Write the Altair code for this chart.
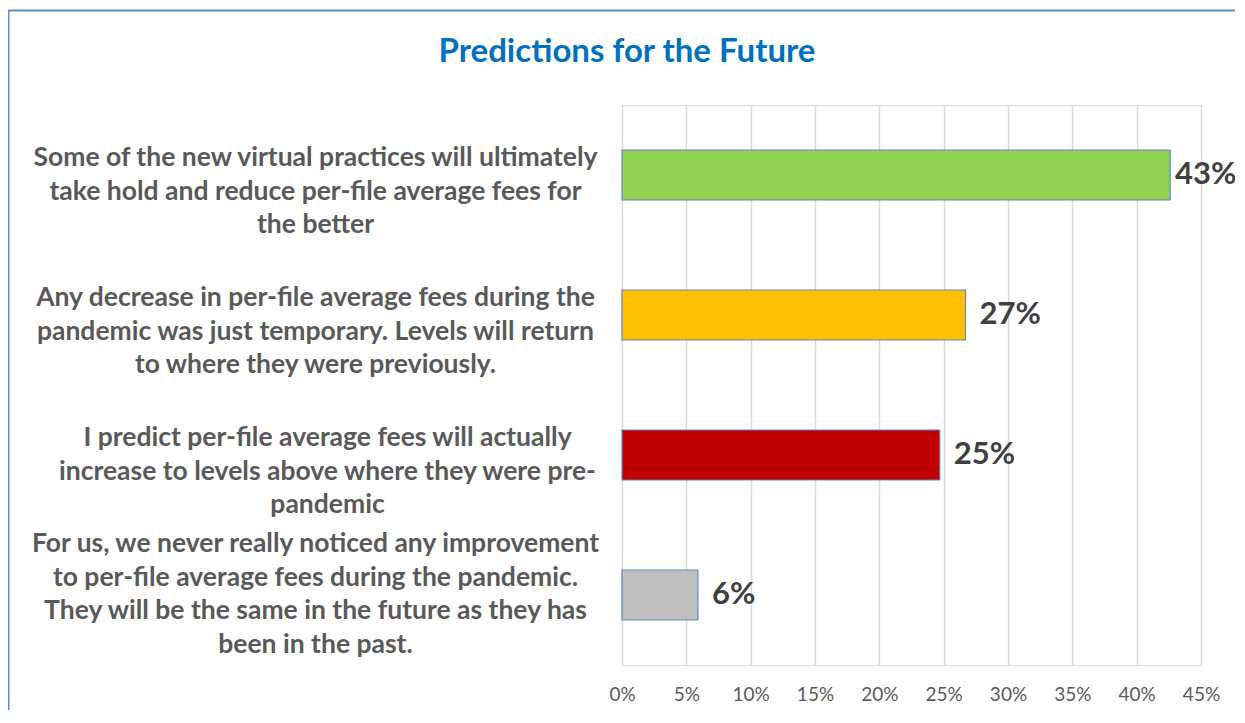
import altair as alt
import pandas as pd

title_text = "Predictions for the Future"
categories = [
    "Some of the new virtual practices will ultimately|take hold and reduce per-file average fees for|the better",
    "Any decrease in per-file average fees during the|pandemic was just temporary. Levels will return|to where they were previously.",
    "I predict per-file average fees will actually|increase to levels above where they were pre-|pandemic",
    "For us, we never really noticed any improvement|to per-file average fees during the pandemic.|They will be the same in the future as they has|been in the past.",
]
values = [0.426, 0.267, 0.247, 0.059]
colors = ["#92D050", "#FFC000", "#C00000", "#BFBFBF"]
x_ticks = [0, 0.05, 0.10, 0.15, 0.20, 0.25, 0.30, 0.35, 0.40, 0.45]

df = pd.DataFrame({"category": categories, "value": values})

FONT = "Lato"

y_enc = alt.Y(
    "category:N",
    sort=categories,
    title=None,
    scale=alt.Scale(paddingInner=0.643, paddingOuter=0.3215),
    axis=alt.Axis(
        labelExpr="split(datum.label, '|')",
        labelAlign="center",
        labelBaseline="middle",
        labelPadding={"condition": {"test": "indexof(datum.label, 'I predict') == 0", "value": 295}, "value": 307},
        labelLineHeight=33.5,
        labelFont=FONT,
        labelFontSize=26.5,
        labelFontWeight="bold",
        labelColor="#595959",
        labelLimit=0,
        labelOffset={"condition": {"test": "length(split(datum.label, '|')) < 4", "value": -17}, "value": -51},
        ticks=False,
        domain=False,
        grid=False,
    ),
)

x_enc = alt.X(
    "value:Q",
    title=None,
    scale=alt.Scale(domain=[0, 0.45], nice=False),
    axis=alt.Axis(
        values=x_ticks,
        format=".0%",
        labelFont=FONT,
        labelFontSize=19,
        labelColor="#595959",
        labelPadding=20,
        labelFlush=False,
        labelOverlap=False,
        ticks=False,
        domain=False,
        grid=True,
        gridColor="#D9D9D9",
        gridWidth=1.5,
    ),
)

bars = alt.Chart(df).mark_bar(stroke="#5B87C9", strokeWidth=1.2).encode(
    y=y_enc,
    x=x_enc,
    color=alt.Color("category:N", scale=alt.Scale(domain=categories, range=colors), legend=None),
)

labels = alt.Chart(df).mark_text(
    align="left", baseline="middle",
    dx=alt.ExprRef("datum.value > 0.4 ? 5 : 14"),
    font=FONT, fontSize=31, fontWeight="bold", color="#404040",
).encode(
    y=alt.Y("category:N", sort=categories),
    x="value:Q",
    text=alt.Text("value:Q", format=".0%"),
)

meta = alt.Data(values=[{"t": title_text}])

border = alt.Chart(meta).mark_rect(
    filled=False, stroke="#5B8BD0", strokeWidth=2
).encode(
    x=alt.value(-613.5), x2=alt.value(1000),
    y=alt.value(-94.5), y2=alt.value(1000),
)

title = alt.Chart(meta).mark_text(
    align="center", baseline="middle",
    font=FONT, fontSize=33, fontWeight="bold", color="#0070C0",
).encode(
    x=alt.value(5), y=alt.value(-53), text="t:N",
)

chart = alt.layer(border, title, bars, labels).properties(
    width=579,
    height=560,
    padding={"left": 614, "top": 97, "right": 34, "bottom": 45},
    autosize=alt.AutoSizeParams(type="none"),
).configure_view(stroke=None).configure(background="white")

chart.save("out.html", embed_options={"renderer": "svg", "actions": False})
